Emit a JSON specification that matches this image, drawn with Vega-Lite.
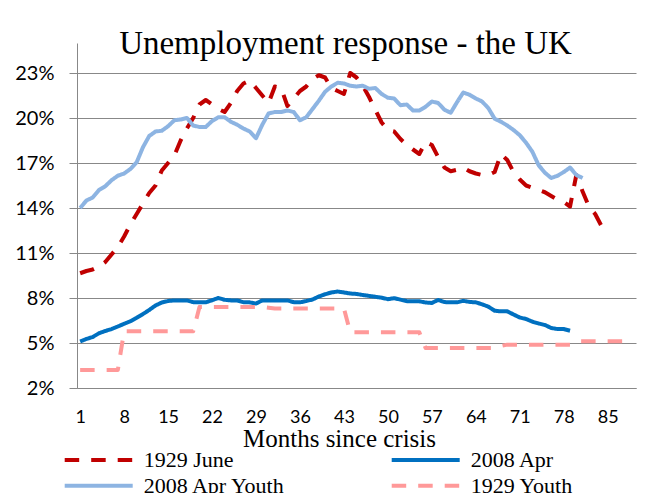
{
  "$schema": "https://vega.github.io/schema/vega-lite/v6.json",
  "width": 559,
  "height": 345,
  "autosize": {"type": "none"},
  "padding": {"left": 77, "top": 43, "right": 10, "bottom": 105},
  "background": "white",
  "title": {"text": "Unemployment response - the UK", "font": "Liberation Serif", "fontSize": 33, "fontWeight": "normal", "color": "black", "anchor": "middle", "frame": "group", "dx": -11, "baseline": "alphabetic", "offset": -44},
  "data": {"values": [
    {"s":"1929 June","m":1,"v":9.65},{"s":"1929 June","m":2,"v":9.8},{"s":"1929 June","m":3,"v":9.9},{"s":"1929 June","m":4,"v":10.1},{"s":"1929 June","m":5,"v":10.4},{"s":"1929 June","m":6,"v":10.9},{"s":"1929 June","m":7,"v":11.4},{"s":"1929 June","m":8,"v":12.1},{"s":"1929 June","m":9,"v":12.9},{"s":"1929 June","m":10,"v":13.6},
    {"s":"1929 June","m":11,"v":14.3},{"s":"1929 June","m":12,"v":15.0},{"s":"1929 June","m":13,"v":15.5},{"s":"1929 June","m":14,"v":16.5},{"s":"1929 June","m":15,"v":17.0},{"s":"1929 June","m":16,"v":17.5},{"s":"1929 June","m":17,"v":18.5},{"s":"1929 June","m":18,"v":19.3},{"s":"1929 June","m":19,"v":20.0},{"s":"1929 June","m":20,"v":20.9},
    {"s":"1929 June","m":21,"v":21.2},{"s":"1929 June","m":22,"v":20.9},{"s":"1929 June","m":23,"v":20.6},{"s":"1929 June","m":24,"v":20.4},{"s":"1929 June","m":25,"v":21.0},{"s":"1929 June","m":26,"v":21.8},{"s":"1929 June","m":27,"v":22.3},{"s":"1929 June","m":28,"v":22.5},{"s":"1929 June","m":29,"v":22.0},{"s":"1929 June","m":30,"v":21.5},
    {"s":"1929 June","m":31,"v":21.0},{"s":"1929 June","m":32,"v":22.1},{"s":"1929 June","m":33,"v":22.0},{"s":"1929 June","m":34,"v":20.8},{"s":"1929 June","m":35,"v":21.3},{"s":"1929 June","m":36,"v":21.8},{"s":"1929 June","m":37,"v":22.1},{"s":"1929 June","m":38,"v":22.6},{"s":"1929 June","m":39,"v":22.85},{"s":"1929 June","m":40,"v":22.7},
    {"s":"1929 June","m":41,"v":22.0},{"s":"1929 June","m":42,"v":21.8},{"s":"1929 June","m":43,"v":21.6},{"s":"1929 June","m":44,"v":23.0},{"s":"1929 June","m":45,"v":22.7},{"s":"1929 June","m":46,"v":22.15},{"s":"1929 June","m":47,"v":21.4},{"s":"1929 June","m":48,"v":20.55},{"s":"1929 June","m":49,"v":19.7},{"s":"1929 June","m":50,"v":19.2},
    {"s":"1929 June","m":51,"v":19.1},{"s":"1929 June","m":52,"v":18.6},{"s":"1929 June","m":53,"v":18.2},{"s":"1929 June","m":54,"v":17.9},{"s":"1929 June","m":55,"v":17.6},{"s":"1929 June","m":56,"v":18.4},{"s":"1929 June","m":57,"v":18.2},{"s":"1929 June","m":58,"v":17.4},{"s":"1929 June","m":59,"v":16.7},{"s":"1929 June","m":60,"v":16.45},
    {"s":"1929 June","m":61,"v":16.55},{"s":"1929 June","m":62,"v":16.7},{"s":"1929 June","m":63,"v":16.45},{"s":"1929 June","m":64,"v":16.3},{"s":"1929 June","m":65,"v":16.2},{"s":"1929 June","m":66,"v":16.2},{"s":"1929 June","m":67,"v":16.4},{"s":"1929 June","m":68,"v":17.6},{"s":"1929 June","m":69,"v":17.2},{"s":"1929 June","m":70,"v":16.4},
    {"s":"1929 June","m":71,"v":15.9},{"s":"1929 June","m":72,"v":15.5},{"s":"1929 June","m":73,"v":15.35},{"s":"1929 June","m":74,"v":15.2},{"s":"1929 June","m":75,"v":15.05},{"s":"1929 June","m":76,"v":14.8},{"s":"1929 June","m":77,"v":14.55},{"s":"1929 June","m":78,"v":14.4},{"s":"1929 June","m":79,"v":14.1},{"s":"1929 June","m":80,"v":16.2},
    {"s":"1929 June","m":81,"v":15.1},{"s":"1929 June","m":82,"v":14.1},{"s":"1929 June","m":83,"v":13.6},{"s":"1929 June","m":84,"v":12.8},

    {"s":"2008 Apr","m":1,"v":5.1},{"s":"2008 Apr","m":2,"v":5.27},{"s":"2008 Apr","m":3,"v":5.4},{"s":"2008 Apr","m":4,"v":5.65},{"s":"2008 Apr","m":5,"v":5.8},{"s":"2008 Apr","m":6,"v":5.93},{"s":"2008 Apr","m":7,"v":6.1},{"s":"2008 Apr","m":8,"v":6.28},{"s":"2008 Apr","m":9,"v":6.45},{"s":"2008 Apr","m":10,"v":6.68},
    {"s":"2008 Apr","m":11,"v":6.93},{"s":"2008 Apr","m":12,"v":7.2},{"s":"2008 Apr","m":13,"v":7.5},{"s":"2008 Apr","m":14,"v":7.7},{"s":"2008 Apr","m":15,"v":7.8},{"s":"2008 Apr","m":16,"v":7.84},{"s":"2008 Apr","m":17,"v":7.84},{"s":"2008 Apr","m":18,"v":7.84},{"s":"2008 Apr","m":19,"v":7.72},{"s":"2008 Apr","m":20,"v":7.71},
    {"s":"2008 Apr","m":21,"v":7.71},{"s":"2008 Apr","m":22,"v":7.85},{"s":"2008 Apr","m":23,"v":8.0},{"s":"2008 Apr","m":24,"v":7.88},{"s":"2008 Apr","m":25,"v":7.84},{"s":"2008 Apr","m":26,"v":7.84},{"s":"2008 Apr","m":27,"v":7.72},{"s":"2008 Apr","m":28,"v":7.71},{"s":"2008 Apr","m":29,"v":7.63},{"s":"2008 Apr","m":30,"v":7.84},
    {"s":"2008 Apr","m":31,"v":7.84},{"s":"2008 Apr","m":32,"v":7.84},{"s":"2008 Apr","m":33,"v":7.84},{"s":"2008 Apr","m":34,"v":7.84},{"s":"2008 Apr","m":35,"v":7.72},{"s":"2008 Apr","m":36,"v":7.71},{"s":"2008 Apr","m":37,"v":7.8},{"s":"2008 Apr","m":38,"v":7.9},{"s":"2008 Apr","m":39,"v":8.1},{"s":"2008 Apr","m":40,"v":8.25},
    {"s":"2008 Apr","m":41,"v":8.37},{"s":"2008 Apr","m":42,"v":8.43},{"s":"2008 Apr","m":43,"v":8.37},{"s":"2008 Apr","m":44,"v":8.3},{"s":"2008 Apr","m":45,"v":8.27},{"s":"2008 Apr","m":46,"v":8.2},{"s":"2008 Apr","m":47,"v":8.14},{"s":"2008 Apr","m":48,"v":8.08},{"s":"2008 Apr","m":49,"v":8.02},{"s":"2008 Apr","m":50,"v":7.92},
    {"s":"2008 Apr","m":51,"v":7.99},{"s":"2008 Apr","m":52,"v":7.89},{"s":"2008 Apr","m":53,"v":7.79},{"s":"2008 Apr","m":54,"v":7.78},{"s":"2008 Apr","m":55,"v":7.78},{"s":"2008 Apr","m":56,"v":7.7},{"s":"2008 Apr","m":57,"v":7.67},{"s":"2008 Apr","m":58,"v":7.87},{"s":"2008 Apr","m":59,"v":7.73},{"s":"2008 Apr","m":60,"v":7.71},
    {"s":"2008 Apr","m":61,"v":7.71},{"s":"2008 Apr","m":62,"v":7.81},{"s":"2008 Apr","m":63,"v":7.74},{"s":"2008 Apr","m":64,"v":7.71},{"s":"2008 Apr","m":65,"v":7.58},{"s":"2008 Apr","m":66,"v":7.42},{"s":"2008 Apr","m":67,"v":7.15},{"s":"2008 Apr","m":68,"v":7.11},{"s":"2008 Apr","m":69,"v":7.11},{"s":"2008 Apr","m":70,"v":6.9},
    {"s":"2008 Apr","m":71,"v":6.7},{"s":"2008 Apr","m":72,"v":6.6},{"s":"2008 Apr","m":73,"v":6.42},{"s":"2008 Apr","m":74,"v":6.3},{"s":"2008 Apr","m":75,"v":6.2},{"s":"2008 Apr","m":76,"v":6.0},{"s":"2008 Apr","m":77,"v":5.93},{"s":"2008 Apr","m":78,"v":5.93},{"s":"2008 Apr","m":79,"v":5.82},

    {"s":"2008 Apr Youth","m":1,"v":14.0},{"s":"2008 Apr Youth","m":2,"v":14.5},{"s":"2008 Apr Youth","m":3,"v":14.7},{"s":"2008 Apr Youth","m":4,"v":15.2},{"s":"2008 Apr Youth","m":5,"v":15.45},{"s":"2008 Apr Youth","m":6,"v":15.85},{"s":"2008 Apr Youth","m":7,"v":16.15},{"s":"2008 Apr Youth","m":8,"v":16.3},{"s":"2008 Apr Youth","m":9,"v":16.6},{"s":"2008 Apr Youth","m":10,"v":17.05},
    {"s":"2008 Apr Youth","m":11,"v":18.05},{"s":"2008 Apr Youth","m":12,"v":18.8},{"s":"2008 Apr Youth","m":13,"v":19.1},{"s":"2008 Apr Youth","m":14,"v":19.15},{"s":"2008 Apr Youth","m":15,"v":19.45},{"s":"2008 Apr Youth","m":16,"v":19.85},{"s":"2008 Apr Youth","m":17,"v":19.9},{"s":"2008 Apr Youth","m":18,"v":20.0},{"s":"2008 Apr Youth","m":19,"v":19.5},{"s":"2008 Apr Youth","m":20,"v":19.4},
    {"s":"2008 Apr Youth","m":21,"v":19.4},{"s":"2008 Apr Youth","m":22,"v":19.8},{"s":"2008 Apr Youth","m":23,"v":20.05},{"s":"2008 Apr Youth","m":24,"v":20.05},{"s":"2008 Apr Youth","m":25,"v":19.75},{"s":"2008 Apr Youth","m":26,"v":19.55},{"s":"2008 Apr Youth","m":27,"v":19.3},{"s":"2008 Apr Youth","m":28,"v":19.1},{"s":"2008 Apr Youth","m":29,"v":18.65},{"s":"2008 Apr Youth","m":30,"v":19.55},
    {"s":"2008 Apr Youth","m":31,"v":20.3},{"s":"2008 Apr Youth","m":32,"v":20.4},{"s":"2008 Apr Youth","m":33,"v":20.4},{"s":"2008 Apr Youth","m":34,"v":20.5},{"s":"2008 Apr Youth","m":35,"v":20.4},{"s":"2008 Apr Youth","m":36,"v":19.85},{"s":"2008 Apr Youth","m":37,"v":20.05},{"s":"2008 Apr Youth","m":38,"v":20.6},{"s":"2008 Apr Youth","m":39,"v":21.15},{"s":"2008 Apr Youth","m":40,"v":21.75},
    {"s":"2008 Apr Youth","m":41,"v":22.1},{"s":"2008 Apr Youth","m":42,"v":22.35},{"s":"2008 Apr Youth","m":43,"v":22.3},{"s":"2008 Apr Youth","m":44,"v":22.15},{"s":"2008 Apr Youth","m":45,"v":22.1},{"s":"2008 Apr Youth","m":46,"v":22.15},{"s":"2008 Apr Youth","m":47,"v":21.95},{"s":"2008 Apr Youth","m":48,"v":22.0},{"s":"2008 Apr Youth","m":49,"v":21.6},{"s":"2008 Apr Youth","m":50,"v":21.35},
    {"s":"2008 Apr Youth","m":51,"v":21.3},{"s":"2008 Apr Youth","m":52,"v":20.85},{"s":"2008 Apr Youth","m":53,"v":20.9},{"s":"2008 Apr Youth","m":54,"v":20.5},{"s":"2008 Apr Youth","m":55,"v":20.5},{"s":"2008 Apr Youth","m":56,"v":20.75},{"s":"2008 Apr Youth","m":57,"v":21.1},{"s":"2008 Apr Youth","m":58,"v":21.0},{"s":"2008 Apr Youth","m":59,"v":20.55},{"s":"2008 Apr Youth","m":60,"v":20.35},
    {"s":"2008 Apr Youth","m":61,"v":21.05},{"s":"2008 Apr Youth","m":62,"v":21.7},{"s":"2008 Apr Youth","m":63,"v":21.55},{"s":"2008 Apr Youth","m":64,"v":21.3},{"s":"2008 Apr Youth","m":65,"v":21.1},{"s":"2008 Apr Youth","m":66,"v":20.65},{"s":"2008 Apr Youth","m":67,"v":19.95},{"s":"2008 Apr Youth","m":68,"v":19.75},{"s":"2008 Apr Youth","m":69,"v":19.5},{"s":"2008 Apr Youth","m":70,"v":19.2},
    {"s":"2008 Apr Youth","m":71,"v":18.85},{"s":"2008 Apr Youth","m":72,"v":18.35},{"s":"2008 Apr Youth","m":73,"v":17.75},{"s":"2008 Apr Youth","m":74,"v":16.85},{"s":"2008 Apr Youth","m":75,"v":16.35},{"s":"2008 Apr Youth","m":76,"v":16.0},{"s":"2008 Apr Youth","m":77,"v":16.15},{"s":"2008 Apr Youth","m":78,"v":16.4},{"s":"2008 Apr Youth","m":79,"v":16.7},{"s":"2008 Apr Youth","m":80,"v":16.2},
    {"s":"2008 Apr Youth","m":81,"v":16.0},

    {"s":"1929 Youth","m":1,"v":3.2},{"s":"1929 Youth","m":2,"v":3.2},{"s":"1929 Youth","m":3,"v":3.2},{"s":"1929 Youth","m":4,"v":3.2},{"s":"1929 Youth","m":5,"v":3.2},{"s":"1929 Youth","m":6,"v":3.2},{"s":"1929 Youth","m":7,"v":3.2},{"s":"1929 Youth","m":8,"v":5.78},{"s":"1929 Youth","m":9,"v":5.78},{"s":"1929 Youth","m":10,"v":5.78},
    {"s":"1929 Youth","m":11,"v":5.78},{"s":"1929 Youth","m":12,"v":5.78},{"s":"1929 Youth","m":13,"v":5.78},{"s":"1929 Youth","m":14,"v":5.78},{"s":"1929 Youth","m":15,"v":5.78},{"s":"1929 Youth","m":16,"v":5.78},{"s":"1929 Youth","m":17,"v":5.78},{"s":"1929 Youth","m":18,"v":5.78},{"s":"1929 Youth","m":19,"v":5.78},{"s":"1929 Youth","m":20,"v":7.4},
    {"s":"1929 Youth","m":21,"v":7.4},{"s":"1929 Youth","m":22,"v":7.4},{"s":"1929 Youth","m":23,"v":7.4},{"s":"1929 Youth","m":24,"v":7.4},{"s":"1929 Youth","m":25,"v":7.4},{"s":"1929 Youth","m":26,"v":7.4},{"s":"1929 Youth","m":27,"v":7.4},{"s":"1929 Youth","m":28,"v":7.4},{"s":"1929 Youth","m":29,"v":7.4},{"s":"1929 Youth","m":30,"v":7.4},
    {"s":"1929 Youth","m":31,"v":7.35},{"s":"1929 Youth","m":32,"v":7.3},{"s":"1929 Youth","m":33,"v":7.3},{"s":"1929 Youth","m":34,"v":7.3},{"s":"1929 Youth","m":35,"v":7.3},{"s":"1929 Youth","m":36,"v":7.3},{"s":"1929 Youth","m":37,"v":7.3},{"s":"1929 Youth","m":38,"v":7.3},{"s":"1929 Youth","m":39,"v":7.3},{"s":"1929 Youth","m":40,"v":7.3},
    {"s":"1929 Youth","m":41,"v":7.3},{"s":"1929 Youth","m":42,"v":7.3},{"s":"1929 Youth","m":43,"v":7.3},{"s":"1929 Youth","m":44,"v":5.71},{"s":"1929 Youth","m":45,"v":5.71},{"s":"1929 Youth","m":46,"v":5.71},{"s":"1929 Youth","m":47,"v":5.71},{"s":"1929 Youth","m":48,"v":5.71},{"s":"1929 Youth","m":49,"v":5.71},{"s":"1929 Youth","m":50,"v":5.71},
    {"s":"1929 Youth","m":51,"v":5.71},{"s":"1929 Youth","m":52,"v":5.71},{"s":"1929 Youth","m":53,"v":5.71},{"s":"1929 Youth","m":54,"v":5.71},{"s":"1929 Youth","m":55,"v":5.71},{"s":"1929 Youth","m":56,"v":4.67},{"s":"1929 Youth","m":57,"v":4.67},{"s":"1929 Youth","m":58,"v":4.67},{"s":"1929 Youth","m":59,"v":4.67},{"s":"1929 Youth","m":60,"v":4.67},
    {"s":"1929 Youth","m":61,"v":4.67},{"s":"1929 Youth","m":62,"v":4.67},{"s":"1929 Youth","m":63,"v":4.67},{"s":"1929 Youth","m":64,"v":4.67},{"s":"1929 Youth","m":65,"v":4.67},{"s":"1929 Youth","m":66,"v":4.67},{"s":"1929 Youth","m":67,"v":4.67},{"s":"1929 Youth","m":68,"v":4.8},{"s":"1929 Youth","m":69,"v":4.89},{"s":"1929 Youth","m":70,"v":4.89},
    {"s":"1929 Youth","m":71,"v":4.89},{"s":"1929 Youth","m":72,"v":4.89},{"s":"1929 Youth","m":73,"v":4.89},{"s":"1929 Youth","m":74,"v":4.89},{"s":"1929 Youth","m":75,"v":4.89},{"s":"1929 Youth","m":76,"v":4.89},{"s":"1929 Youth","m":77,"v":4.89},{"s":"1929 Youth","m":78,"v":4.89},{"s":"1929 Youth","m":79,"v":4.89},{"s":"1929 Youth","m":80,"v":5.11},
    {"s":"1929 Youth","m":81,"v":5.11},{"s":"1929 Youth","m":82,"v":5.11},{"s":"1929 Youth","m":83,"v":5.11},{"s":"1929 Youth","m":84,"v":5.11},{"s":"1929 Youth","m":85,"v":5.11},{"s":"1929 Youth","m":86,"v":5.11},{"s":"1929 Youth","m":87,"v":5.11},{"s":"1929 Youth","m":88,"v":5.11},{"s":"1929 Youth","m":89,"v":5.11}
  ]},
  "mark": {"type": "line", "strokeWidth": 4, "strokeCap": "butt", "strokeJoin": "round"},
  "encoding": {
    "x": {"field": "m", "type": "quantitative", "scale": {"domain": [0.5, 89.5], "nice": false, "zero": false},
      "axis": {"values": [1,8,15,22,29,36,43,50,57,64,71,78,85], "grid": false, "ticks": false, "domainColor": "#888888", "domainWidth": 1,
        "labelFont": "Lato", "labelFontSize": 18, "labelColor": "black", "labelPadding": 20, "labelFlush": false, "labelOverlap": false,
        "title": "Months since crisis", "titleFont": "Liberation Serif", "titleFontSize": 25, "titleFontWeight": "normal", "titleColor": "black",
        "titleX": 262, "titleY": 58.7, "titleBaseline": "alphabetic", "titleAlign": "center"}},
    "y": {"field": "v", "type": "quantitative", "scale": {"domain": [2, 25], "nice": false, "zero": false},
      "axis": {"values": [2,5,8,11,14,17,20,23], "labelExpr": "datum.value + '%'", "title": null, "grid": true, "gridColor": "#888888", "gridWidth": 1,
        "domainColor": "#888888", "tickColor": "#888888", "tickSize": 8, "labelFont": "Lato", "labelFontSize": 20, "labelColor": "black", "labelPadding": 15, "labelBaseline": "middle", "labelFlush": false}},
    "color": {"field": "s", "type": "nominal",
      "scale": {"domain": ["1929 June", "2008 Apr", "2008 Apr Youth", "1929 Youth"], "range": ["#C00000", "#0070C0", "#8DB4E2", "#FF9999"]},
      "legend": {"orient": "none", "direction": "horizontal", "legendX": -14.3, "legendY": 406, "columns": 2, "title": null, "symbolType": "stroke", "symbolSize": 4624, "symbolStrokeWidth": 4,
        "labelFont": "Liberation Serif", "labelFontSize": 22, "labelColor": "black", "labelOffset": 9, "columnPadding": 103, "rowPadding": 3.7, "clipHeight": 22, "padding": 0, "labelLimit": 300}},
    "strokeDash": {"field": "s", "type": "nominal",
      "scale": {"domain": ["1929 June", "2008 Apr", "2008 Apr Youth", "1929 Youth"], "range": [[14.5, 12], [1, 0], [1, 0], [14.5, 12]]},
      "legend": {"orient": "none", "direction": "horizontal", "legendX": -14.3, "legendY": 406, "columns": 2, "title": null, "symbolType": "stroke", "symbolSize": 4624, "symbolStrokeWidth": 4,
        "labelFont": "Liberation Serif", "labelFontSize": 22, "labelColor": "black", "labelOffset": 9, "columnPadding": 103, "rowPadding": 3.7, "clipHeight": 22, "padding": 0, "labelLimit": 300}}
  },
  "config": {"view": {"stroke": null}}
}
